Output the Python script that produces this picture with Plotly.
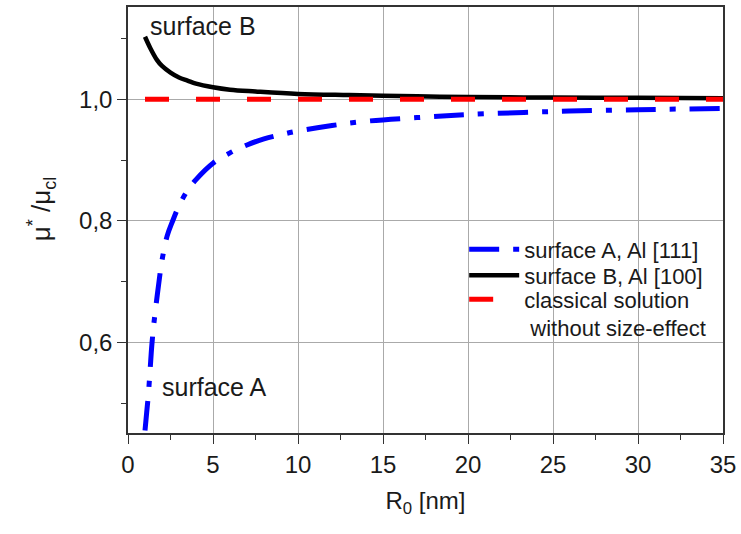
import plotly.graph_objects as go

# --- data ---
r_surface_a = [1.0, 1.1, 1.2, 1.3, 1.4, 1.5, 1.6, 1.8, 2.0, 2.3, 2.6, 3.0, 3.5, 4.0, 5.0,
               6.0, 7.0, 8.0, 9.0, 10.0, 12.0, 14.0, 17.0, 20.0, 25.0, 30.0, 35.0]
mu_surface_a = [0.455, 0.485, 0.515, 0.555, 0.595, 0.625, 0.650, 0.695, 0.735, 0.775, 0.798,
                0.825, 0.850, 0.868, 0.895, 0.912, 0.925, 0.935, 0.942, 0.948, 0.957, 0.964,
                0.970, 0.975, 0.980, 0.983, 0.985]

r_surface_b = [1.0, 1.3, 1.7, 2.0, 2.5, 3.0, 3.5, 4.0, 5.0, 6.0, 7.5, 10.0, 13.0, 17.0,
               20.0, 25.0, 30.0, 35.0]
mu_surface_b = [1.103, 1.085, 1.065, 1.055, 1.044, 1.036, 1.031, 1.026, 1.020, 1.016, 1.013,
                1.009, 1.007, 1.005, 1.004, 1.003, 1.0025, 1.002]

r_classical = [1.0, 35.0]
mu_classical = [1.0, 1.0]

x_tick_vals = [0, 5, 10, 15, 20, 25, 30, 35]
x_tick_text = ["0", "5", "10", "15", "20", "25", "30", "35"]
y_tick_vals = [0.6, 0.8, 1.0]
y_tick_text = ["0,6", "0,8", "1,0"]

FONT = "Liberation Sans, Arial, sans-serif"
TXT = "#1a1a1a"

fig = go.Figure()
fig.add_trace(go.Scatter(
    x=r_surface_a, y=mu_surface_a, mode="lines", name="surface A, Al [111]",
    line=dict(color="#0000ff", width=5, dash="30px,14px,6px,14px", shape="spline"),
    legend="legend",
))
fig.add_trace(go.Scatter(
    x=r_surface_b, y=mu_surface_b, mode="lines", name="surface B, Al [100]",
    line=dict(color="#000000", width=4.5, shape="spline"),
    legend="legend2",
))
fig.add_trace(go.Scatter(
    x=r_classical, y=mu_classical, mode="lines",
    name="classical solution<br>\u00a0without size-effect",
    line=dict(color="#ff0000", width=5, dash="24px,27px"),
    legend="legend3",
))

axis_common = dict(
    showline=True, linecolor="#333333", linewidth=1.5, mirror=True,
    showgrid=True, gridcolor="#aaaaaa", gridwidth=1,
    ticks="outside", ticklen=9, tickwidth=1.2, tickcolor="#333333",
    tickfont=dict(family=FONT, size=24, color=TXT),
    zeroline=False,
)

fig.update_xaxes(
    range=[0, 35], tickvals=x_tick_vals, ticktext=x_tick_text,
    minor=dict(ticks="outside", ticklen=5, tickwidth=1.2, tickcolor="#333333",
               dtick=2.5, tick0=0, showgrid=False),
    title=dict(text="R<sub>0</sub> [nm]", font=dict(family=FONT, size=24, color=TXT), standoff=16),
    **axis_common,
)
fig.update_yaxes(
    range=[0.451, 1.152], tickvals=y_tick_vals, ticktext=y_tick_text,
    minor=dict(ticks="outside", ticklen=5, tickwidth=1.2, tickcolor="#333333",
               dtick=0.1, tick0=0.5, showgrid=False),
    **axis_common,
)

# y-axis title as rotated annotation for precise placement
fig.add_annotation(x=-0.145, y=0.527, xref="paper", yref="paper",
                   text="μ<sup>*</sup> /μ<sub>cl</sub>", textangle=-90, showarrow=False,
                   xanchor="center", yanchor="middle",
                   font=dict(family=FONT, size=26, color=TXT))

fig.add_annotation(x=1.2, y=1.121, xref="x", yref="y", text="surface B", showarrow=False,
                   xanchor="left", yanchor="middle", font=dict(family=FONT, size=25, color=TXT))
fig.add_annotation(x=1.9, y=0.527, xref="x", yref="y", text="surface A", showarrow=False,
                   xanchor="left", yanchor="middle", font=dict(family=FONT, size=25, color=TXT))

legend_common = dict(xanchor="left", yanchor="top", bgcolor="rgba(0,0,0,0)", borderwidth=0,
                     valign="top", itemwidth=50, font=dict(family=FONT, size=22, color=TXT))
fig.update_layout(
    width=741, height=534,
    margin=dict(l=128, r=18, t=5, b=101),
    paper_bgcolor="white", plot_bgcolor="white",
    showlegend=True,
    legend=dict(x=0.565, y=0.480, **legend_common),
    legend2=dict(x=0.565, y=0.419, **legend_common),
    legend3=dict(x=0.565, y=0.363, **legend_common),
)

fig.write_html("out.html")
